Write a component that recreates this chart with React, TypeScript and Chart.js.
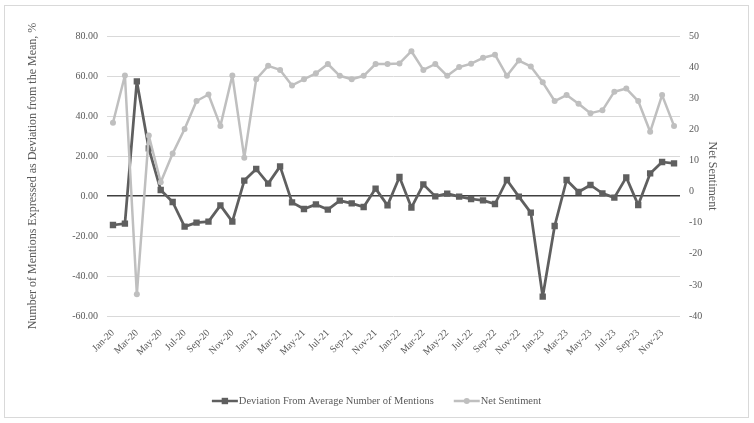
import React, { useEffect, useRef } from "react";
import { Chart, registerables } from "chart.js";

Chart.register(...registerables);

const categories = [
  "Jan-20", "Feb-20", "Mar-20", "Apr-20", "May-20", "Jun-20", "Jul-20", "Aug-20", "Sep-20", "Oct-20", "Nov-20", "Dec-20",
  "Jan-21", "Feb-21", "Mar-21", "Apr-21", "May-21", "Jun-21", "Jul-21", "Aug-21", "Sep-21", "Oct-21", "Nov-21", "Dec-21",
  "Jan-22", "Feb-22", "Mar-22", "Apr-22", "May-22", "Jun-22", "Jul-22", "Aug-22", "Sep-22", "Oct-22", "Nov-22", "Dec-22",
  "Jan-23", "Feb-23", "Mar-23", "Apr-23", "May-23", "Jun-23", "Jul-23", "Aug-23", "Sep-23", "Oct-23", "Nov-23", "Dec-23",
];

const deviationValues = [
  -14.5, -13.8, 57.3, 23.8, 3, -3, -15.3, -13.3, -12.8, -4.7, -12.8, 7.7,
  13.5, 6.2, 14.8, -3.2, -6.5, -4.2, -6.8, -2.3, -3.7, -5.5, 3.7, -4.7,
  9.5, -5.8, 5.8, -0.2, 1.2, -0.3, -1.5, -2.2, -4, 8, -0.3, -8.3,
  -50.3, -15, 8, 2, 5.5, 1.3, -0.8, 9.3, -4.5, 11.3, 17, 16.3,
];

const sentimentValues = [
  22.1, 37.3, -33, 18, 3, 12.2, 20.1, 29.1, 31.2, 21.1, 37.3, 10.9,
  36.1, 40.4, 39.1, 34.1, 36.1, 38, 41, 37.2, 36.1, 37.2, 41, 41,
  41.2, 45.1, 39.1, 41, 37.2, 40, 41.1, 43, 44, 37.2, 42.1, 40.2,
  35.1, 29.1, 31, 28.2, 25.2, 26.1, 32.1, 33.1, 29.1, 19.2, 31, 21.1,
];

const seriesNames = ["Deviation From Average Number of Mentions", "Net Sentiment"];
const leftTitle = "Number of Mentions Expressed as Deviation from the Mean, %";
const rightTitle = "Net Sentiment";

const DARK = "#5f5f5f";
const LIGHT = "#bfbfbf";
const TEXT = "#595959";
const FONT = "'Liberation Serif', 'DejaVu Serif', serif";

const legendPlugin = {
  id: "excelLegend",
  afterDraw(chart: any) {
    const ctx = chart.ctx;
    ctx.save();
    ctx.font = `10.5px ${FONT}`;
    ctx.textBaseline = "middle";
    ctx.fillStyle = TEXT;
    const items = [
      { name: seriesNames[0], color: DARK, style: "rect" },
      { name: seriesNames[1], color: LIGHT, style: "circle" },
    ];
    const lineW = 26;
    const gapText = 1;
    const gapItems = 20;
    const widths = items.map((it) => ctx.measureText(it.name).width);
    const total = widths.reduce((a, w) => a + lineW + gapText + w, 0) + gapItems;
    let x = chart.width / 2 - total / 2;
    const y = 395;
    items.forEach((it, i) => {
      ctx.strokeStyle = it.color;
      ctx.lineWidth = 2.5;
      ctx.beginPath();
      ctx.moveTo(x, y);
      ctx.lineTo(x + lineW, y);
      ctx.stroke();
      ctx.fillStyle = it.color;
      const cx = x + lineW / 2;
      if (it.style === "rect") {
        ctx.fillRect(cx - 3.2, y - 3.2, 6.4, 6.4);
      } else {
        ctx.beginPath();
        ctx.arc(cx, y, 3, 0, Math.PI * 2);
        ctx.fill();
      }
      ctx.fillStyle = TEXT;
      ctx.fillText(it.name, x + lineW + gapText, y + 0.5);
      x += lineW + gapText + widths[i] + gapItems;
    });
    ctx.restore();
  },
};

export default function App() {
  const canvasRef = useRef<HTMLCanvasElement | null>(null);

  useEffect(() => {
    document.body.style.margin = "0";
    const canvas = canvasRef.current;
    if (!canvas) return;
    const chart = new Chart(canvas, {
      type: "line",
      data: {
        labels: categories,
        datasets: [
          {
            label: seriesNames[0],
            data: deviationValues,
            yAxisID: "y",
            borderColor: DARK,
            backgroundColor: DARK,
            borderWidth: 2.75,
            borderJoinStyle: "round",
            borderCapStyle: "round",
            pointStyle: "rect",
            pointRadius: 4.5,
            pointBorderWidth: 0,
            tension: 0,
            order: 2,
          },
          {
            label: seriesNames[1],
            data: sentimentValues,
            yAxisID: "y1",
            borderColor: LIGHT,
            backgroundColor: LIGHT,
            borderWidth: 2.5,
            borderJoinStyle: "round",
            borderCapStyle: "round",
            pointStyle: "circle",
            pointRadius: 3,
            pointBorderWidth: 0,
            tension: 0,
            order: 1,
          },
        ],
      },
      options: {
        responsive: false,
        animation: false,
        layout: { padding: { top: 30, left: 0, right: 0, bottom: 0 } },
        plugins: {
          legend: { display: false },
          tooltip: { enabled: false },
        },
        scales: {
          x: {
            type: "category",
            offset: true,
            grid: { display: false },
            border: { display: false },
            ticks: {
              autoSkip: false,
              maxRotation: 45,
              minRotation: 45,
              padding: 3,
              color: TEXT,
              font: { family: FONT, size: 10 },
              callback: (_v: any, i: number) => (i % 2 === 0 ? categories[i] : ""),
            },
            afterFit: (scale: any) => {
              scale.height = 101;
            },
          },
          y: {
            position: "left",
            min: -60,
            max: 80,
            border: { display: false },
            grid: {
              drawTicks: false,
              color: (c: any) => (c.tick && c.tick.value === 0 ? "#404040" : "#d9d9d9"),
              lineWidth: (c: any) => (c.tick && c.tick.value === 0 ? 1.5 : 1),
            },
            ticks: {
              stepSize: 20,
              padding: 9,
              color: TEXT,
              font: { family: FONT, size: 10 },
              callback: (v: any) => Number(v).toFixed(2),
            },
            title: {
              display: true,
              text: leftTitle,
              color: TEXT,
              font: { family: FONT, size: 12 },
              padding: { top: 21, bottom: 0 },
            },
            afterFit: (scale: any) => {
              scale.width = 102;
            },
          },
          y1: {
            position: "right",
            min: -40,
            max: 50,
            border: { display: false },
            grid: { display: false, drawOnChartArea: false, drawTicks: false },
            ticks: {
              stepSize: 10,
              padding: 9,
              color: TEXT,
              font: { family: FONT, size: 10 },
            },
            title: {
              display: true,
              text: rightTitle,
              color: TEXT,
              font: { family: FONT, size: 12 },
              padding: { top: 29, bottom: 0 },
            },
            afterFit: (scale: any) => {
              scale.width = 68;
            },
          },
        },
      },
      plugins: [legendPlugin],
    } as any);
    return () => chart.destroy();
  }, []);

  return (
    <div
      style={{
        position: "absolute",
        left: 4,
        top: 5,
        width: 745,
        height: 413,
        border: "1px solid #d9d9d9",
        boxSizing: "border-box",
        background: "#fff",
      }}
    >
      <canvas ref={canvasRef} width={743} height={411} style={{ display: "block", width: 743, height: 411 }} />
    </div>
  );
}
